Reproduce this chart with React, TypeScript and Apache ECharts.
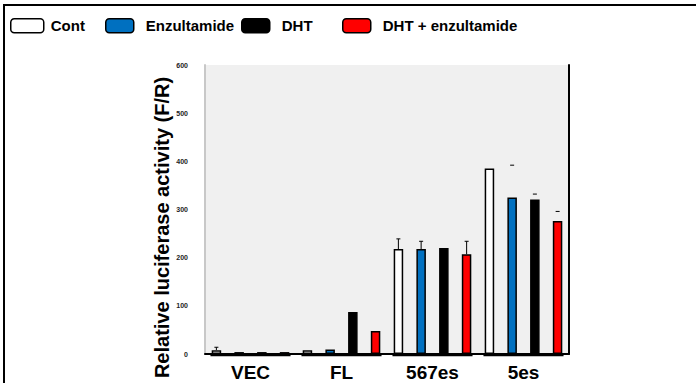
import React, { useEffect, useRef } from "react";
import * as echarts from "echarts";

const categories = ["VEC", "FL", "567es", "5es"];
const seriesNames = ["Cont", "Enzultamide", "DHT", "DHT + enzultamide"];
const seriesColors = ["#ffffff", "#0070c0", "#000000", "#ff0000"];
const contValues = [8, 8, 218, 385];
const enzValues = [4, 9.5, 218, 325];
const dhtValues = [4, 87, 220, 321];
const comboValues = [4, 48, 207, 276];
const contErr = [6, 0, 21, 0];
const enzErr = [0, 0, 16, 67];
const dhtErr = [0, 0, 0, 11];
const comboErr = [0, 0, 27, 20];
const errStem = [true, true, true, false];
const yTicks = { min: 0, max: 600, interval: 100 };

export default function App() {
  const ref = useRef<HTMLDivElement>(null);
  useEffect(() => {
    if (!ref.current) return;
    const chart = echarts.init(ref.current, null, { renderer: "svg" });
    const values = [contValues, enzValues, dhtValues, comboValues];
    const errs = [contErr, enzErr, dhtErr, comboErr];
    const barWidth = 9.5;
    const barSeries = seriesNames.map((name, i) => ({
      name,
      type: "bar",
      data: values[i],
      barWidth,
      barGap: "139%",
      itemStyle: { color: seriesColors[i], borderColor: "#000", borderWidth: 1.5 },
      z: 3,
    }));
    const errData: number[][] = [];
    values.forEach((vals, s) => {
      vals.forEach((v, c) => {
        if (errs[s][c] > 0) errData.push([c, s, v + errs[s][c], v]);
      });
    });
    const errSeries = {
      type: "custom",
      data: errData,
      encode: { x: 0, y: 2 },
      z: 4,
      renderItem: (params: any, api: any) => {
        const c = api.value(0);
        const s = api.value(1);
        const top = api.coord([c, api.value(2)]);
        const base = api.coord([c, api.value(3)]);
        const bw = api.size([1, 0])[0];
        const x = top[0] + (s - 1.5) * (bw / 4);
        const children: any[] = [
          { type: "line", shape: { x1: x - 2, y1: top[1], x2: x + 2, y2: top[1] }, style: { stroke: "#000", lineWidth: 1 } },
        ];
        if (errStem[c]) {
          children.push({ type: "line", shape: { x1: x, y1: top[1], x2: x, y2: base[1] }, style: { stroke: "#000", lineWidth: 1 } });
        }
        return { type: "group", children };
      },
    };
    const baseSeries = {
      type: "custom",
      data: categories.map((_, i) => [i, 0]),
      encode: { x: 0, y: 1 },
      z: 5,
      renderItem: (params: any, api: any) => {
        const p = api.coord([api.value(0), 0]);
        const bw = api.size([1, 0])[0];
        return {
          type: "line",
          shape: { x1: p[0] - bw * 0.44, y1: p[1] + 1, x2: p[0] + bw * 0.44, y2: p[1] + 1 },
          style: { stroke: "#000", lineWidth: 2.5 },
        };
      },
    };
    const legendLefts = [10, 105, 241, 342];
    const legends = seriesNames.map((name, i) => ({
      data: [name],
      left: legendLefts[i],
      top: 18,
      padding: 0,
      itemWidth: i === 0 ? 33 : 28,
      itemHeight: 14,
      icon: "roundRect",
      itemStyle: { borderColor: "#000", borderWidth: 1.5 },
      textStyle: {
        fontSize: 15,
        fontWeight: "bold",
        fontFamily: "Liberation Sans, Arial, sans-serif",
        color: "#000",
        padding: [0, 0, 0, i === 0 ? 2 : 7],
      },
      selectedMode: false,
    }));
    chart.setOption({
      animation: false,
      backgroundColor: "#ffffff",
      legend: legends,
      grid: {
        left: 205,
        top: 65,
        width: 364,
        height: 289,
        show: true,
        backgroundColor: "#f0f0f0",
        borderWidth: 0,
      },
      xAxis: [
        {
          type: "category",
          data: categories,
          axisLine: { show: false },
          axisTick: { show: false },
          axisLabel: {
            fontSize: 19,
            fontWeight: "bold",
            fontFamily: "Liberation Sans, Arial, sans-serif",
            color: "#000",
            margin: 9,
          },
        },
        {
          type: "category",
          data: categories,
          position: "top",
          axisLine: { show: true, lineStyle: { color: "#000", width: 2 } },
          axisTick: { show: false },
          axisLabel: { show: false },
        },
      ],
      yAxis: [
        {
          type: "value",
          min: yTicks.min,
          max: yTicks.max,
          interval: yTicks.interval,
          splitLine: { show: false },
          axisLine: { show: true, lineStyle: { color: "#c8c8c8", width: 2 } },
          axisTick: { show: false },
          axisLabel: {
            fontSize: 7,
            fontWeight: "bold",
            fontFamily: "Liberation Sans, Arial, sans-serif",
            color: "#222",
            margin: 17,
          },
          name: "Relative luciferase activity (F/R)",
          nameLocation: "middle",
          nameGap: 33,
          nameMoveOverlap: false,
          nameTextStyle: {
            fontSize: 20,
            fontWeight: "bold",
            fontFamily: "Liberation Sans, Arial, sans-serif",
            color: "#000",
            padding: [0, 36, 0, 0],
          },
        },
        {
          type: "value",
          min: yTicks.min,
          max: yTicks.max,
          interval: yTicks.interval,
          position: "right",
          splitLine: { show: false },
          axisLine: { show: true, lineStyle: { color: "#000", width: 2 } },
          axisTick: { show: false },
          axisLabel: { show: false },
        },
      ],
      graphic: [
        {
          type: "rect",
          shape: { x: 4, y: 5, width: 900, height: 600 },
          style: { fill: "none", stroke: "#000", lineWidth: 2 },
          silent: true,
        },
      ],
      series: [...barSeries, errSeries, baseSeries],
    });
    return () => chart.dispose();
  }, []);
  return (
    <div
      ref={ref}
      style={{ position: "fixed", left: 0, top: 0, width: 696, height: 383 }}
    />
  );
}
